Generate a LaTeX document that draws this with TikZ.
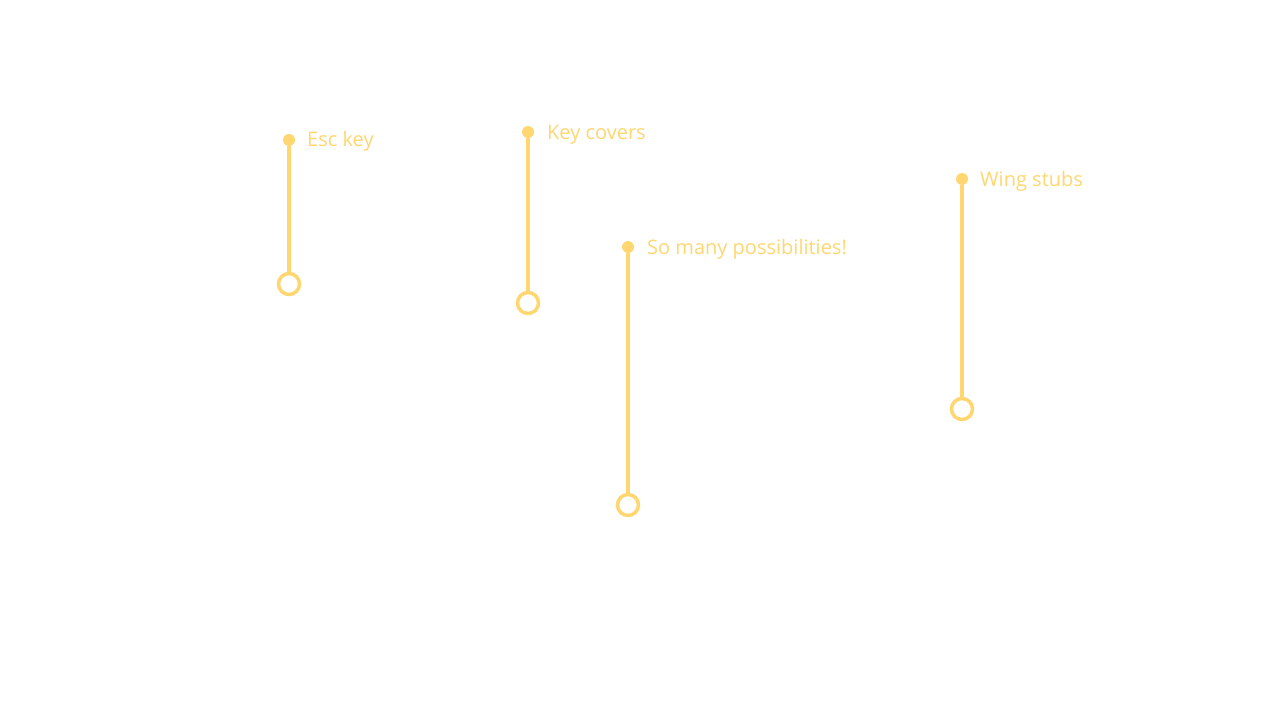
\documentclass[tikz,border=0pt]{standalone}
\usepackage{fontspec}
\setmainfont{Open Sans}
\definecolor{pinyellow}{RGB}{255,214,112}
\begin{document}
\begin{tikzpicture}[x=1pt, y=-1pt,
    pin/.style={circle, fill=pinyellow, inner sep=0pt, minimum size=12pt},
    ring/.style={circle, draw=pinyellow, line width=3.5pt, fill=white, inner sep=0pt, minimum size=21pt},
    stem/.style={draw=pinyellow, line width=3.5pt},
    tag/.style={anchor=base west, inner sep=0pt, text=pinyellow, font=\fontsize{20}{24}\selectfont}]
    \path[use as bounding box] (0,0) rectangle (1277,717);
    \node[pin] (esc) at (289,140) {};
    \node[ring] (escend) at (289,284) {};
    \node[pin] (covers) at (528,132) {};
    \node[ring] (coversend) at (528,303) {};
    \node[pin] (many) at (628,247) {};
    \node[ring] (manyend) at (628,505) {};
    \node[pin] (wing) at (962,179) {};
    \node[ring] (wingend) at (962,409) {};

    % stems from pin to ring
    \path[stem] (esc) -- (escend);
    \path[stem] (covers) -- (coversend);
    \path[stem] (many) -- (manyend);
    \path[stem] (wing) -- (wingend);

    % labels
    \node[tag] (esctext) at (307,146) {Esc key};
    \node[tag] (coverstext) at (547,139) {Key covers};
    \node[tag] (manytext) at (647,254) {So many possibilities!};
    \node[tag] (wingtext) at (980,186) {Wing stubs};
\end{tikzpicture}
\end{document}
